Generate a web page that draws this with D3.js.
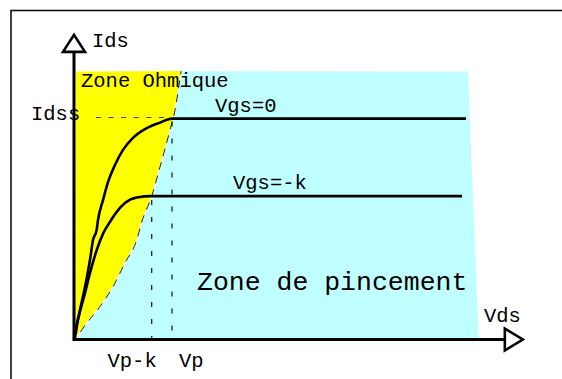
<!DOCTYPE html>
<html><head><meta charset="utf-8">
<script src="https://cdn.jsdelivr.net/npm/d3@7"></script>
<style>
body{margin:0;background:#fff}
svg{display:block}
text{font-family:"Courier New","Liberation Mono",monospace;fill:#000}
</style>
</head><body>
<svg id="c" width="562" height="379"></svg>
<script>
// Characteristic Ids = f(Vds), normalised units (Vp = 1, Idss = 1)
const vgs0Vds = [0, 0.01, 0.061, 0.112, 0.163, 0.194, 0.231, 0.245, 0.296, 0.347, 0.418, 0.5, 0.602, 0.742, 0.878, 1.0, 4.0];
const vgs0Ids = [0, 0.029, 0.133, 0.236, 0.358, 0.448, 0.493, 0.538, 0.628, 0.709, 0.786, 0.854, 0.908, 0.952, 0.977, 0.995, 0.995];
const vgsKVds = [0, 0.01, 0.041, 0.112, 0.163, 0.232, 0.299, 0.367, 0.436, 0.52, 0.64, 0.793, 3.96];
const vgsKIds = [0, 0.0126, 0.088, 0.209, 0.299, 0.403, 0.479, 0.530, 0.575, 0.615, 0.640, 0.646, 0.646];
// pinch-off locus (boundary ohmic / saturation)
const pinchVds = [0, 0.028, 0.130, 0.265, 0.398, 0.520, 0.640, 0.691, 0.793, 0.878, 0.980, 1.031, 1.092];
const pinchIds = [0, 0.0126, 0.074, 0.148, 0.238, 0.345, 0.448, 0.529, 0.646, 0.778, 0.944, 1.034, 1.209];
const zoneTop = 1.207;
const satRightVds = [4.02, 4.13];   // right edge of saturation zone (top, bottom)
const ohmicLeftVds = 0.02;
const idss = 1.0;
const tickValues = [0.793, 1.0];
const tickLabels = ["Vp-k", "Vp"];
const seriesLabels = ["Vgs=0", "Vgs=-k"];
const axisEnds = {x: 4.58, y: 1.372};

const svg = d3.select("#c");
const x = d3.scaleLinear().domain([0, 1]).range([74, 172]);
const y = d3.scaleLinear().domain([0, 1]).range([339.5, 117.5]);

// frame
svg.append("rect").attr("x", 11).attr("y", 10.5).attr("width", 600).attr("height", 400)
  .attr("fill", "none").attr("stroke", "#111").attr("stroke-width", 1.6);

const pinch = pinchVds.map((v, i) => [v, pinchIds[i]]);
const line = d3.line().x(d => x(d[0])).y(d => y(d[1]));
const smooth = d3.line().x(d => x(d[0])).y(d => y(d[1])).curve(d3.curveMonotoneX);

// zones
const cyanPts = pinch.concat([[satRightVds[0], zoneTop], [satRightVds[1], 0]]);
svg.append("path").attr("d", line(cyanPts) + "Z").attr("fill", "#c0ffff");
const yellowPts = pinch.concat([[ohmicLeftVds, zoneTop], [0, 0]]);
svg.append("path").attr("d", line(yellowPts) + "Z").attr("fill", "#ffff00");
// boundary
svg.append("path").attr("d", smooth(pinch)).attr("fill", "none").attr("stroke", "#fff").attr("stroke-width", 1.2);
svg.append("path").attr("d", smooth(pinch)).attr("fill", "none").attr("stroke", "#222")
  .attr("stroke-width", 1).attr("stroke-dasharray", "8,6").attr("stroke-dashoffset", 4);

// Idss dashed line
svg.append("line").attr("x1", x(0.224)).attr("x2", x(0.99)).attr("y1", y(idss)).attr("y2", y(idss))
  .attr("stroke", "#444").attr("stroke-width", 1.2).attr("stroke-dasharray", "5,7.6");

// vertical dotted lines
const tickTops = [vgsKIds[vgsKIds.length - 1], idss];
tickValues.forEach((v, i) => {
  svg.append("line").attr("x1", x(v)).attr("x2", x(v)).attr("y1", y(tickTops[i])).attr("y2", y(0))
    .attr("stroke", "#111").attr("stroke-width", 1.2).attr("stroke-dasharray", "5,12").attr("stroke-dashoffset", -4);
});

// curves
[[vgs0Vds, vgs0Ids], [vgsKVds, vgsKIds]].forEach(([xs, ys]) => {
  svg.append("path").attr("d", smooth(xs.map((v, i) => [v, ys[i]])))
    .attr("fill", "none").attr("stroke", "#000").attr("stroke-width", 2.6).attr("stroke-linejoin", "round");
});

// axes
const xBase = x(axisEnds.x) - 18, yBase = y(axisEnds.y) + 17;
svg.append("line").attr("x1", x(0)).attr("x2", xBase).attr("y1", y(0)).attr("y2", y(0))
  .attr("stroke", "#000").attr("stroke-width", 3);
svg.append("line").attr("x1", x(0)).attr("x2", x(0)).attr("y1", y(0) + 1.5).attr("y2", yBase)
  .attr("stroke", "#000").attr("stroke-width", 3);
svg.append("path")
  .attr("d", `M${xBase},${y(0) - 11}L${x(axisEnds.x)},${y(0)}L${xBase},${y(0) + 11}Z`)
  .attr("fill", "#fff").attr("stroke", "#000").attr("stroke-width", 2.6).attr("stroke-linejoin", "miter");
svg.append("path")
  .attr("d", `M${x(0) - 11},${yBase}L${x(0)},${y(axisEnds.y)}L${x(0) + 11},${yBase}Z`)
  .attr("fill", "#fff").attr("stroke", "#000").attr("stroke-width", 2.6).attr("stroke-linejoin", "miter");

// texts
const fs = 20.5;
const T = (t, px, py, size, anchor) => svg.append("text").attr("x", px).attr("y", py)
  .attr("font-size", size).attr("text-anchor", anchor || "start").text(t);
T("Ids", x(0) + 18, 47, fs);
T("Vds", 484, 322, fs);
T("Idss", 31, 120, fs);
T("Zone Ohmique", 81, 87, fs);
T(seriesLabels[0], 215, 112, fs);
T(seriesLabels[1], 233, 189, fs);
T("Zone de pincement", 197, 290, 26.5);
T(tickLabels[0], x(tickValues[0]) + 5, 367, fs, "end");
T(tickLabels[1], x(tickValues[1]) + 7, 367, fs);
</script>
</body></html>
